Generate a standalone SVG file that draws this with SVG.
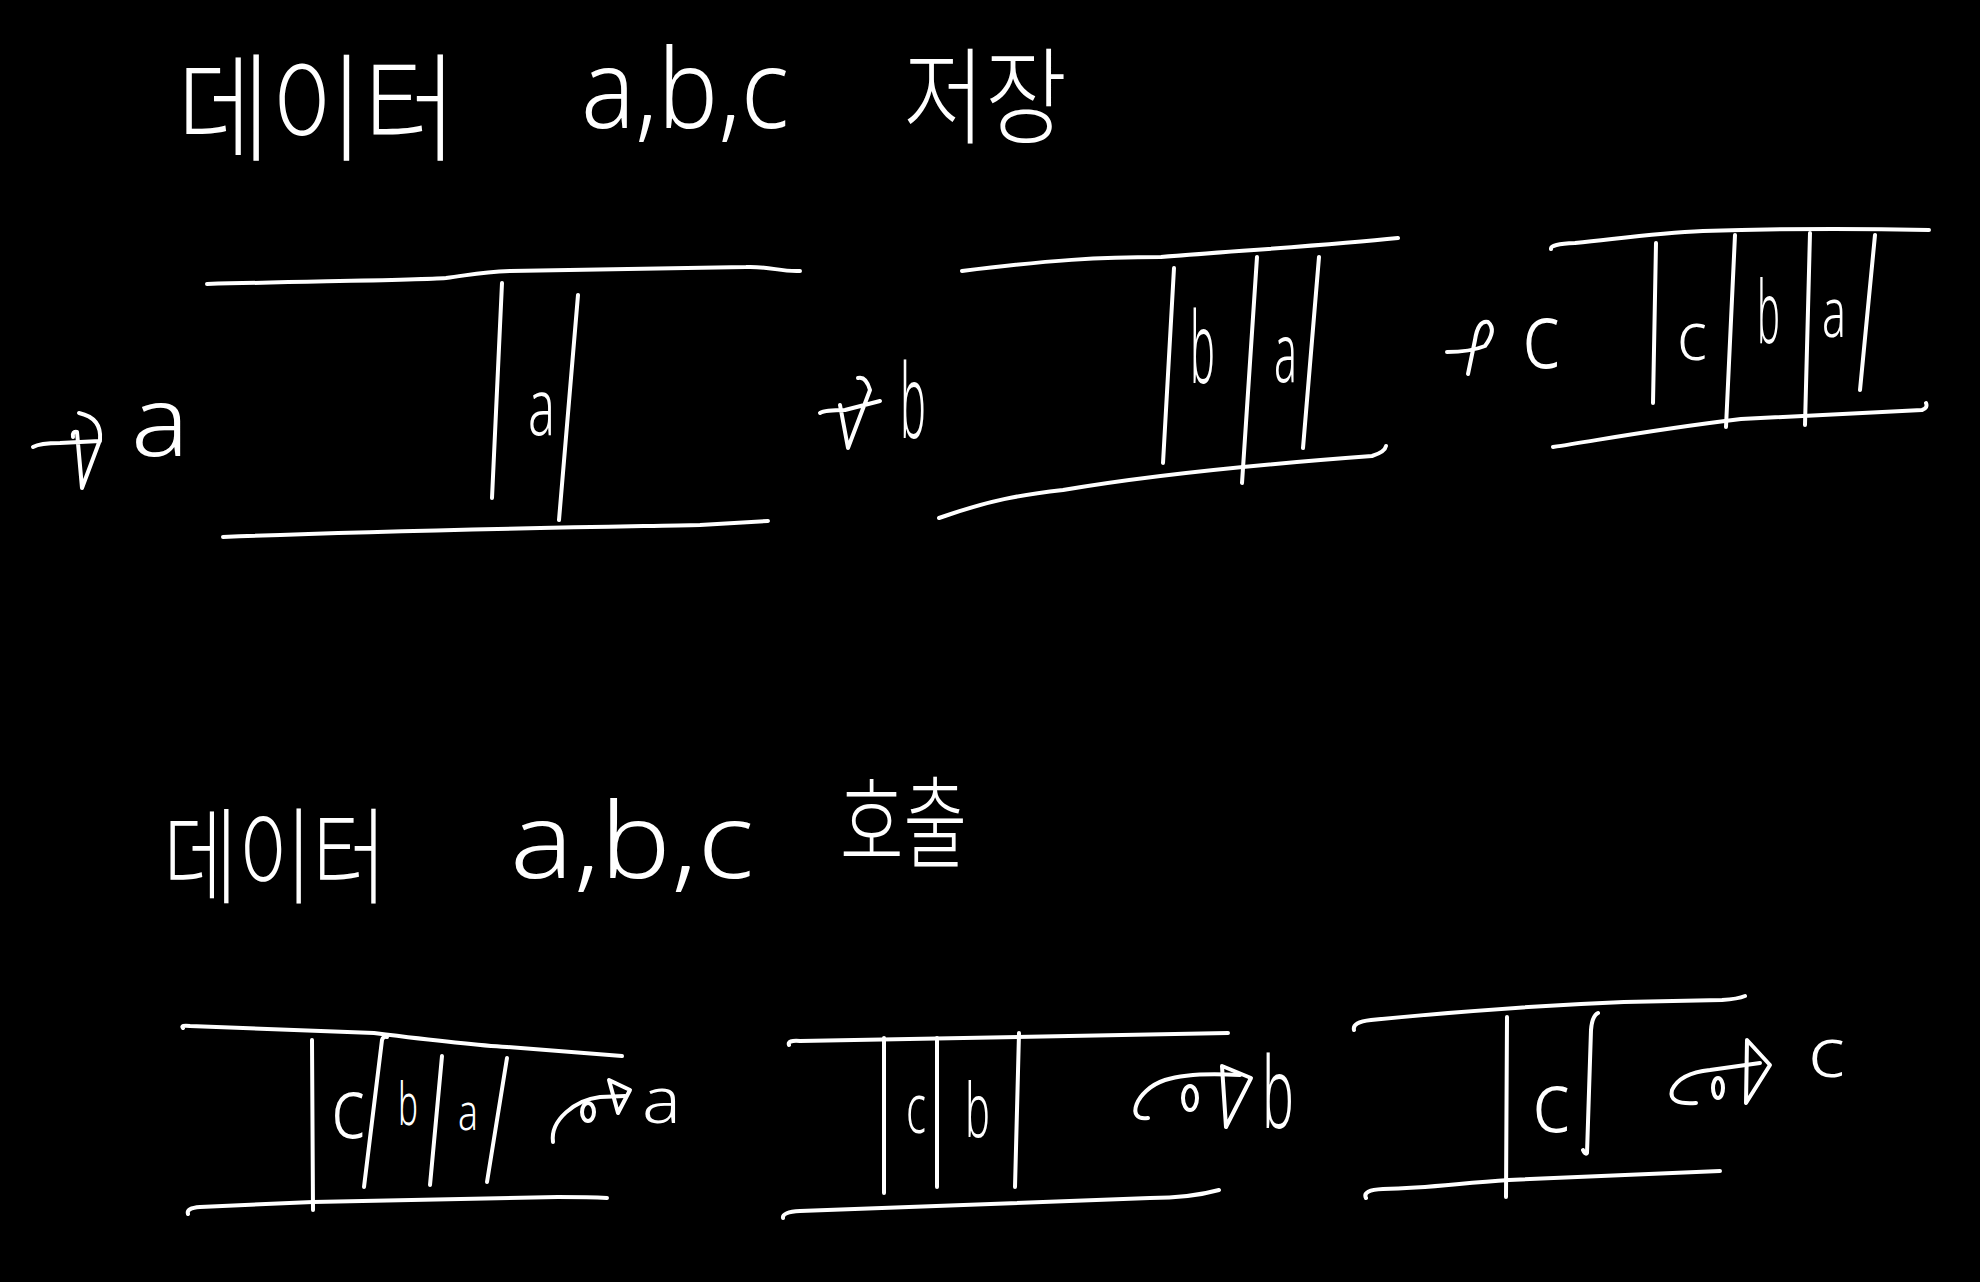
<svg xmlns="http://www.w3.org/2000/svg" width="1980" height="1282" viewBox="0 0 1980 1282">
<style>
.s{fill:none;stroke:#fff;stroke-width:4;stroke-linecap:round;stroke-linejoin:round}
.t{fill:#fff;font-family:"Noto Sans","Liberation Sans","Noto Sans CJK KR",sans-serif;font-weight:300}
.k{fill:#fff;font-family:"Noto Sans CJK KR","Noto Sans",sans-serif;font-weight:300}
</style>
<rect width="1980" height="1282" fill="#000"/>
<g id="title-store">
<text class="k" x="177" y="152" font-size="118" textLength="280" lengthAdjust="spacingAndGlyphs">데이터</text>
<text class="t" x="581" y="128" font-size="110" textLength="208" lengthAdjust="spacingAndGlyphs">a,b,c</text>
<text class="k" x="903" y="135" font-size="105" textLength="164" lengthAdjust="spacingAndGlyphs">저장</text>
</g>
<g id="title-call">
<text class="k" x="163" y="895" font-size="105" textLength="224" lengthAdjust="spacingAndGlyphs">데이터</text>
<text class="t" x="510" y="878" font-size="105" textLength="244" lengthAdjust="spacingAndGlyphs">a,b,c</text>
<text class="k" x="840" y="860" font-size="100" textLength="127" lengthAdjust="spacingAndGlyphs">호출</text>
</g>
<g id="queue-1">
<path class="s" d="M207,284 C330,281 420,280 446,278 C470,275 480,272 510,271 L746,267 C770,266 780,272 800,271"/>
<path class="s" d="M223,537 C400,530 600,527 700,525 L768,521"/>
<path class="s" d="M502,283 L492,498 M578,295 L559,520"/>
<text class="t" x="528" y="435" font-size="80" textLength="27" lengthAdjust="spacingAndGlyphs">a</text>
</g>
<g id="queue-2">
<path class="s" d="M962,271 C1050,260 1100,257 1161,257 C1250,250 1330,245 1398,238"/>
<path class="s" d="M939,518 C990,500 1020,495 1063,490 C1150,475 1250,465 1372,456 Q1385,452 1386,446"/>
<path class="s" d="M1174,268 L1163,463 M1257,257 L1242,483 M1319,257 L1303,448"/>
<text class="t" x="1190" y="383" font-size="100" textLength="25" lengthAdjust="spacingAndGlyphs">b</text>
<text class="t" x="1274" y="382" font-size="82" textLength="23" lengthAdjust="spacingAndGlyphs">a</text>
</g>
<g id="queue-3">
<path class="s" d="M1551,249 Q1550,244 1575,243 C1640,236 1660,233 1703,231 C1800,228 1880,229 1929,230"/>
<path class="s" d="M1553,447 C1600,440 1650,430 1741,419 L1922,410 Q1928,408 1926,403"/>
<path class="s" d="M1656,243 L1653,403 M1735,235 L1726,427 M1810,233 L1805,425 M1875,235 L1860,390"/>
<text class="t" x="1677" y="360" font-size="68" textLength="30" lengthAdjust="spacingAndGlyphs">c</text>
<text class="t" x="1757" y="343" font-size="86" textLength="23" lengthAdjust="spacingAndGlyphs">b</text>
<text class="t" x="1822" y="337" font-size="70" textLength="24" lengthAdjust="spacingAndGlyphs">a</text>
</g>
<g id="queue-4">
<path class="s" d="M183,1028 Q180,1025 190,1026 L374,1033 C430,1040 470,1045 507,1047 L622,1056"/>
<path class="s" d="M188,1214 Q186,1208 200,1207 L313,1202 L558,1197 Q590,1197 607,1198"/>
<path class="s" d="M312,1040 L313,1210 M387,1037 Q383,1036 382,1040 L364,1187 M442,1056 L430,1185 M507,1058 L487,1182"/>
<text class="t" x="331" y="1138" font-size="84" textLength="34" lengthAdjust="spacingAndGlyphs">c</text>
<text class="t" x="398" y="1125" font-size="58" textLength="20" lengthAdjust="spacingAndGlyphs">b</text>
<text class="t" x="458" y="1130" font-size="52" textLength="20" lengthAdjust="spacingAndGlyphs">a</text>
</g>
<g id="queue-5">
<path class="s" d="M789,1045 Q787,1040 800,1041 L1228,1033"/>
<path class="s" d="M783,1218 Q782,1212 800,1211 L1150,1198 Q1190,1198 1219,1190"/>
<path class="s" d="M884,1038 L884,1193 M937,1038 L937,1187 M1019,1033 L1015,1187"/>
<text class="t" x="906" y="1133" font-size="70" textLength="20" lengthAdjust="spacingAndGlyphs">c</text>
<text class="t" x="965" y="1137" font-size="75" textLength="25" lengthAdjust="spacingAndGlyphs">b</text>
</g>
<g id="queue-6">
<path class="s" d="M1354,1030 Q1352,1022 1371,1020 C1450,1012 1550,1005 1624,1002 L1722,1000 Q1738,999 1745,996"/>
<path class="s" d="M1366,1198 Q1362,1190 1383,1189 C1430,1188 1460,1183 1509,1180 L1720,1171"/>
<path class="s" d="M1507,1017 L1506,1197 M1598,1013 Q1592,1016 1591,1030 L1587,1153 Q1585,1155 1583,1150"/>
<text class="t" x="1532" y="1132" font-size="84" textLength="38" lengthAdjust="spacingAndGlyphs">c</text>
</g>
<g id="labels">
<text class="t" x="131" y="456" font-size="98" textLength="58" lengthAdjust="spacingAndGlyphs">a</text>
<text class="t" x="900" y="438" font-size="103" textLength="26" lengthAdjust="spacingAndGlyphs">b</text>
<text class="t" x="1522" y="368" font-size="92" textLength="38" lengthAdjust="spacingAndGlyphs">c</text>
<text class="t" x="642" y="1123" font-size="65" textLength="39" lengthAdjust="spacingAndGlyphs">a</text>
<text class="t" x="1262" y="1128" font-size="100" textLength="32" lengthAdjust="spacingAndGlyphs">b</text>
<text class="t" x="1808" y="1077" font-size="69" textLength="37" lengthAdjust="spacingAndGlyphs">c</text>
</g>
<g id="connectors">
<path class="s" d="M33,447 Q40,443 60,443 L100,441 M73,437 Q72,431 77,432 L82,488 L100,440 Q102,418 79,413"/>
<path class="s" d="M820,413 Q825,410 845,410 L880,401 M840,405 L848,448 L870,390 Q866,376 858,378"/>
<path class="s" d="M1447,352 Q1470,352 1485,346 Q1497,330 1488,322 Q1478,320 1475,340 L1468,374"/>
<path class="s" d="M553,1142 C550,1120 575,1100 600,1097 L625,1096"/>
<ellipse class="s" cx="588" cy="1112" rx="6" ry="9"/>
<path class="s" d="M609,1080 L630,1090 L618,1113 Z"/>
<path class="s" d="M1148,1118 C1125,1122 1135,1090 1165,1080 Q1190,1072 1240,1075"/>
<ellipse class="s" cx="1190" cy="1098" rx="7" ry="12"/>
<path class="s" d="M1222,1066 L1251,1078 L1226,1127 Z"/>
<path class="s" d="M1696,1103 Q1668,1105 1672,1090 Q1680,1073 1710,1070 L1760,1063"/>
<ellipse class="s" cx="1718" cy="1088" rx="5" ry="10"/>
<path class="s" d="M1747,1040 L1770,1065 L1746,1103 Z"/>
</g>
</svg>
